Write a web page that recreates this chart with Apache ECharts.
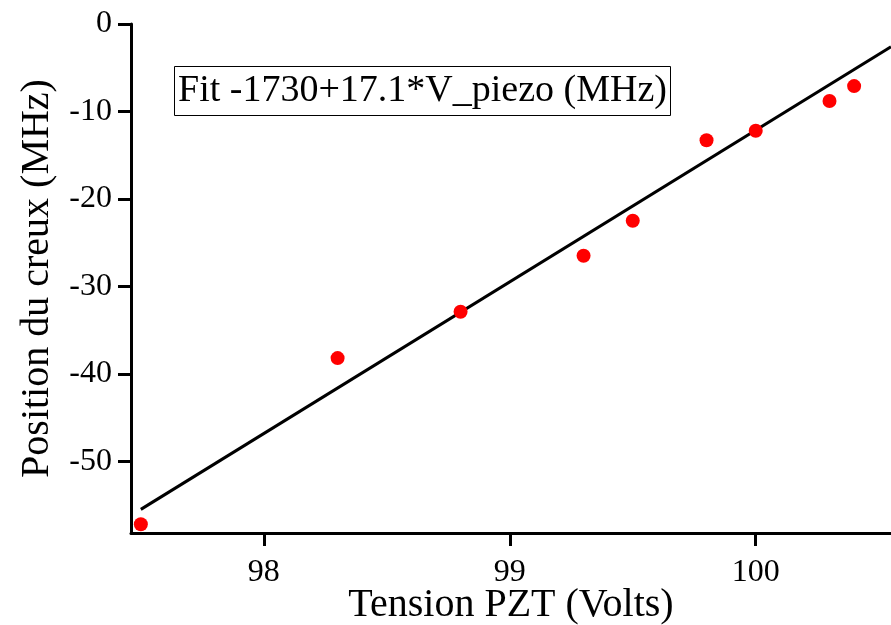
<!DOCTYPE html>
<html>
<head>
<meta charset="utf-8">
<script src="https://cdn.jsdelivr.net/npm/echarts@6/dist/echarts.min.js"></script>
<style>
  html, body { margin: 0; padding: 0; background: #fff; }
  #main { width: 891px; height: 625px; }
</style>
</head>
<body>
<div id="main"></div>
<script>
// measured points
var tension = [97.5, 98.3, 98.8, 99.3, 99.5, 99.8, 100.0, 100.3, 100.4];
var position = [-57.2, -38.2, -32.9, -26.5, -22.5, -13.3, -12.2, -8.8, -7.1];

// fit line end points
var fitX = [97.5, 100.55];
var fitY = [-55.5, -2.6];

var xTicks = [98, 99, 100];
var yTicks = [-50, -40, -30, -20, -10, 0];

var font = 'Liberation Serif';

var chart = echarts.init(document.getElementById('main'));

var axisCommon = {
    axisLine: { show: true, onZero: false, lineStyle: { color: '#000', width: 3 } },
    axisTick: { show: true, length: 13, lineStyle: { color: '#000', width: 3 } },
    splitLine: { show: false },
    nameTextStyle: { fontFamily: font, fontSize: 40, color: '#000' }
};

var option = {
    animation: false,
    backgroundColor: '#fff',
    title: {
        text: 'Fit -1730+17.1*V_piezo (MHz)',
        left: 174,
        top: 66,
        padding: [6, 4, 6, 4],
        borderColor: '#000',
        borderWidth: 1,
        textStyle: { fontFamily: font, fontSize: 38, fontWeight: 'normal', color: '#000' }
    },
    grid: { left: 131, right: 0, top: 24, bottom: 92, containLabel: false, outerBoundsMode: 'none' },
    xAxis: Object.assign({}, axisCommon, {
        type: 'value',
        min: 97.46,
        max: 100.55,
        name: 'Tension PZT (Volts)',
        nameLocation: 'middle',
        nameGap: 52,
        nameMoveOverlap: false,
        axisTick: Object.assign({}, axisCommon.axisTick, { customValues: xTicks }),
        axisLabel: { customValues: xTicks, fontFamily: font, fontSize: 32, color: '#000', margin: 24 }
    }),
    yAxis: Object.assign({}, axisCommon, {
        type: 'value',
        min: -58.2,
        max: 0,
        name: 'Position du creux (MHz)',
        nameLocation: 'middle',
        nameGap: 74,
        axisTick: Object.assign({}, axisCommon.axisTick, { customValues: yTicks }),
        axisLabel: { customValues: yTicks, fontFamily: font, fontSize: 32, color: '#000', margin: 19 }
    }),
    series: [
        {
            name: 'fit',
            type: 'line',
            data: fitX.map(function (v, i) { return [v, fitY[i]]; }),
            showSymbol: false,
            symbol: 'none',
            lineStyle: { color: '#000', width: 3 },
            z: 2
        },
        {
            name: 'points',
            type: 'scatter',
            data: tension.map(function (v, i) { return [v, position[i]]; }),
            symbolSize: 14,
            itemStyle: { color: '#ff0000', opacity: 1 },
            z: 3
        }
    ]
};

chart.setOption(option);
</script>
</body>
</html>
